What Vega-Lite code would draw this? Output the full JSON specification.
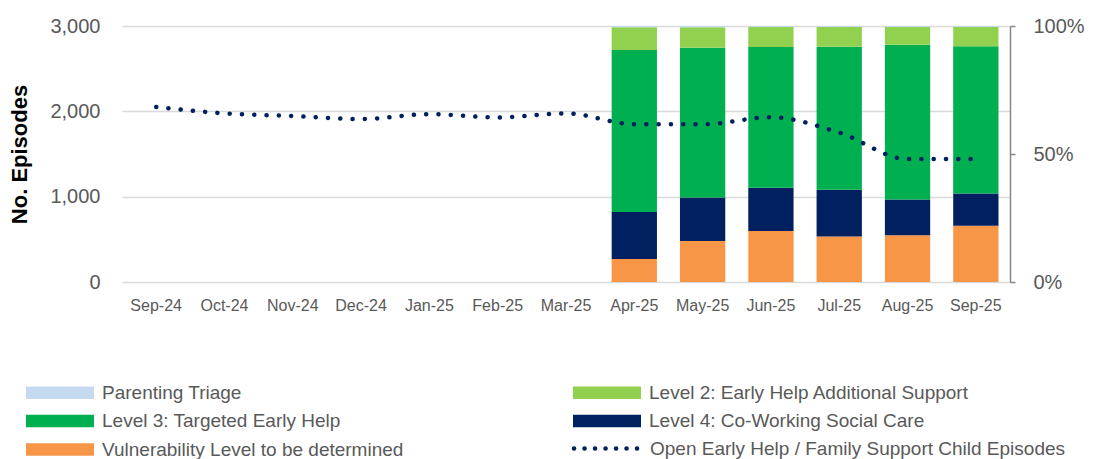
{
  "$schema": "https://vega.github.io/schema/vega-lite/v6.json",
  "width": 888,
  "height": 256,
  "autosize": {"type": "none"},
  "padding": {"left": 122, "top": 26, "right": 85, "bottom": 177},
  "background": "white",
  "config": {
    "view": {"stroke": null},
    "font": "Liberation Sans"
  },
  "datasets": {
    "bars": [
      {"month": "Apr-25", "level": "Vulnerability Level to be determined", "ord": 1, "pct": 0.090},
      {"month": "Apr-25", "level": "Level 4: Co-Working Social Care", "ord": 2, "pct": 0.183},
      {"month": "Apr-25", "level": "Level 3: Targeted Early Help", "ord": 3, "pct": 0.633},
      {"month": "Apr-25", "level": "Level 2: Early Help Additional Support", "ord": 4, "pct": 0.089},
      {"month": "Apr-25", "level": "Parenting Triage", "ord": 5, "pct": 0.005},
      {"month": "May-25", "level": "Vulnerability Level to be determined", "ord": 1, "pct": 0.160},
      {"month": "May-25", "level": "Level 4: Co-Working Social Care", "ord": 2, "pct": 0.170},
      {"month": "May-25", "level": "Level 3: Targeted Early Help", "ord": 3, "pct": 0.585},
      {"month": "May-25", "level": "Level 2: Early Help Additional Support", "ord": 4, "pct": 0.080},
      {"month": "May-25", "level": "Parenting Triage", "ord": 5, "pct": 0.005},
      {"month": "Jun-25", "level": "Vulnerability Level to be determined", "ord": 1, "pct": 0.199},
      {"month": "Jun-25", "level": "Level 4: Co-Working Social Care", "ord": 2, "pct": 0.169},
      {"month": "Jun-25", "level": "Level 3: Targeted Early Help", "ord": 3, "pct": 0.550},
      {"month": "Jun-25", "level": "Level 2: Early Help Additional Support", "ord": 4, "pct": 0.078},
      {"month": "Jun-25", "level": "Parenting Triage", "ord": 5, "pct": 0.004},
      {"month": "Jul-25", "level": "Vulnerability Level to be determined", "ord": 1, "pct": 0.178},
      {"month": "Jul-25", "level": "Level 4: Co-Working Social Care", "ord": 2, "pct": 0.182},
      {"month": "Jul-25", "level": "Level 3: Targeted Early Help", "ord": 3, "pct": 0.559},
      {"month": "Jul-25", "level": "Level 2: Early Help Additional Support", "ord": 4, "pct": 0.077},
      {"month": "Jul-25", "level": "Parenting Triage", "ord": 5, "pct": 0.004},
      {"month": "Aug-25", "level": "Vulnerability Level to be determined", "ord": 1, "pct": 0.183},
      {"month": "Aug-25", "level": "Level 4: Co-Working Social Care", "ord": 2, "pct": 0.139},
      {"month": "Aug-25", "level": "Level 3: Targeted Early Help", "ord": 3, "pct": 0.605},
      {"month": "Aug-25", "level": "Level 2: Early Help Additional Support", "ord": 4, "pct": 0.069},
      {"month": "Aug-25", "level": "Parenting Triage", "ord": 5, "pct": 0.004},
      {"month": "Sep-25", "level": "Vulnerability Level to be determined", "ord": 1, "pct": 0.220},
      {"month": "Sep-25", "level": "Level 4: Co-Working Social Care", "ord": 2, "pct": 0.126},
      {"month": "Sep-25", "level": "Level 3: Targeted Early Help", "ord": 3, "pct": 0.575},
      {"month": "Sep-25", "level": "Level 2: Early Help Additional Support", "ord": 4, "pct": 0.075},
      {"month": "Sep-25", "level": "Parenting Triage", "ord": 5, "pct": 0.004}
    ],
    "line": [
      {"month": "Sep-24", "series": "Open Early Help / Family Support Child Episodes", "episodes": 2052},
      {"month": "Oct-24", "series": "Open Early Help / Family Support Child Episodes", "episodes": 1976},
      {"month": "Nov-24", "series": "Open Early Help / Family Support Child Episodes", "episodes": 1945},
      {"month": "Dec-24", "series": "Open Early Help / Family Support Child Episodes", "episodes": 1909},
      {"month": "Jan-25", "series": "Open Early Help / Family Support Child Episodes", "episodes": 1967},
      {"month": "Feb-25", "series": "Open Early Help / Family Support Child Episodes", "episodes": 1929},
      {"month": "Mar-25", "series": "Open Early Help / Family Support Child Episodes", "episodes": 1976},
      {"month": "Apr-25", "series": "Open Early Help / Family Support Child Episodes", "episodes": 1849},
      {"month": "May-25", "series": "Open Early Help / Family Support Child Episodes", "episodes": 1848},
      {"month": "Jun-25", "series": "Open Early Help / Family Support Child Episodes", "episodes": 1930},
      {"month": "Jul-25", "series": "Open Early Help / Family Support Child Episodes", "episodes": 1751},
      {"month": "Aug-25", "series": "Open Early Help / Family Support Child Episodes", "episodes": 1440},
      {"month": "Sep-25", "series": "Open Early Help / Family Support Child Episodes", "episodes": 1440}
    ]
  },
  "encoding": {
    "x": {
      "field": "month",
      "type": "ordinal",
      "sort": ["Sep-24", "Oct-24", "Nov-24", "Dec-24", "Jan-25", "Feb-25", "Mar-25", "Apr-25", "May-25", "Jun-25", "Jul-25", "Aug-25", "Sep-25"],
      "scale": {"paddingInner": 0.337, "paddingOuter": 0.1685},
      "axis": {
        "title": null,
        "labelAngle": 0,
        "labelFontSize": 16,
        "labelColor": "#595959",
        "labelPadding": 15,
        "ticks": false,
        "domain": false,
        "grid": false
      }
    }
  },
  "layer": [
    {
      "data": {"name": "bars"},
      "mark": {"type": "bar"},
      "encoding": {
        "y": {
          "field": "pct",
          "type": "quantitative",
          "stack": "zero",
          "scale": {"domain": [0, 1]},
          "axis": {
            "orient": "right",
            "values": [0, 0.5, 1],
            "format": ".0%",
            "grid": false,
            "domain": true,
            "domainColor": "#868686",
            "domainWidth": 1.5,
            "ticks": true,
            "tickColor": "#868686",
            "tickSize": 5,
            "tickWidth": 1.5,
            "labelPadding": 18,
            "labelFontSize": 20,
            "labelColor": "#595959",
            "title": null
          }
        },
        "color": {
          "field": "level",
          "type": "nominal",
          "scale": {
            "domain": ["Parenting Triage", "Level 3: Targeted Early Help", "Vulnerability Level to be determined", "Level 2: Early Help Additional Support", "Level 4: Co-Working Social Care"],
            "range": ["#C5D9F1", "#00B050", "#F79646", "#92D050", "#002060"]
          },
          "legend": {
            "orient": "none",
            "legendX": -99,
            "legendY": 357,
            "columns": 2,
            "columnPadding": 166,
            "rowPadding": 8.5,
            "title": null,
            "padding": 0,
            "symbolType": "M-1,-0.96H9.46V0.96H-1Z",
            "symbolSize": 169,
            "symbolStrokeWidth": 0,
            "symbolOpacity": 1,
            "labelFontSize": 19,
            "labelColor": "#595959",
            "labelOffset": 60,
            "labelLimit": 600
          }
        },
        "order": {"field": "ord", "type": "quantitative"}
      }
    },
    {
      "data": {"name": "line"},
      "mark": {"type": "line", "interpolate": "monotone", "strokeWidth": 4.5, "strokeCap": "round", "strokeDash": [0.1, 12.2]},
      "encoding": {
        "y": {
          "field": "episodes",
          "type": "quantitative",
          "scale": {"domain": [0, 3000]},
          "axis": {
            "orient": "left",
            "values": [0, 1000, 2000, 3000],
            "format": ",.0f",
            "grid": true,
            "gridColor": "#d9d9d9",
            "gridWidth": 1.5,
            "domain": false,
            "ticks": false,
            "labelPadding": 22,
            "labelFontSize": 20,
            "labelColor": "#595959",
            "title": "No. Episodes",
            "titleFontSize": 22,
            "titleFontWeight": "bold",
            "titleColor": "#000000",
            "titlePadding": 18
          }
        },
        "color": {
          "field": "series",
          "type": "nominal",
          "scale": {"range": ["#002060"]},
          "legend": {
            "orient": "none",
            "legendX": 449,
            "legendY": 413,
            "title": null,
            "padding": 0,
            "symbolType": "M-1,0H9.46",
            "symbolSize": 169,
            "symbolStrokeWidth": 4.5,
            "symbolDash": [0.1, 10.4],
            "symbolStrokeColor": "#002060",
            "labelFontSize": 19,
            "labelColor": "#595959",
            "labelOffset": 60,
            "labelLimit": 600,
            "encode": {"symbols": {"update": {"strokeCap": {"value": "round"}}}}
          }
        }
      }
    }
  ],
  "resolve": {"scale": {"y": "independent", "color": "independent"}}
}
